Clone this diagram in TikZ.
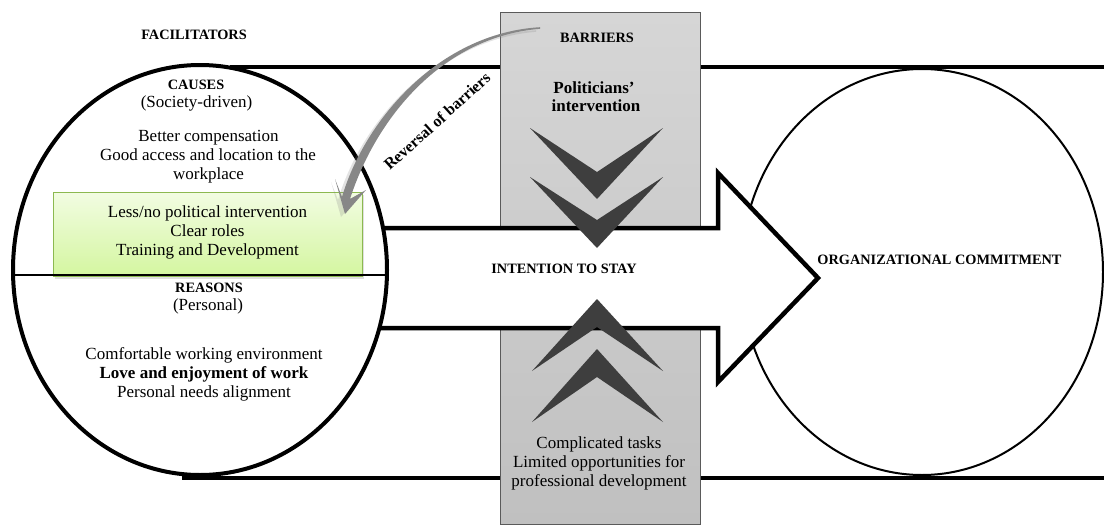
\documentclass[tikz,border=0pt]{standalone}
\usepackage{fontspec}
\setmainfont{Liberation Serif}
\usetikzlibrary{shadows}
\definecolor{boxtop}{RGB}{214,214,214}
\definecolor{boxbot}{RGB}{192,192,192}
\definecolor{boxedge}{RGB}{90,90,90}
\definecolor{chevgray}{RGB}{62,62,62}
\definecolor{greentop}{RGB}{242,252,226}
\definecolor{greenbot}{RGB}{212,246,160}
\definecolor{greenedge}{RGB}{140,185,80}
\definecolor{arrowgray}{RGB}{135,135,135}
\begin{document}
\begin{tikzpicture}[x=1pt,y=-1pt,
  thickline/.style={line width=4.5pt},
  txt/.style={font=\fontsize{17}{19}\selectfont, anchor=base, inner sep=0pt},
  btxt/.style={font=\fontsize{17}{19}\selectfont\bfseries, anchor=base, inner sep=0pt},
  hdr/.style={font=\fontsize{14.3}{17}\selectfont\bfseries, anchor=base, inner sep=0pt},
  chev/.style={fill=chevgray, draw=none},
  greenbox/.style={draw=greenedge, line width=1pt, top color=greentop, bottom color=greenbot,
     drop shadow={opacity=0.25, shadow xshift=2pt, shadow yshift=-3pt}},
  curvedarrow/.style={fill=arrowgray},
]
\useasboundingbox (0,0) rectangle (1104,525);
% frame lines
\coordinate (tl) at (230,67); \coordinate (tr) at (1104,67);
\coordinate (bl) at (182,478); \coordinate (br) at (1104,478);
\draw[thickline] (tl) -- (tr);
\draw[thickline] (bl) -- (br);
% right circle
\draw[line width=2pt, fill=white] (922,272) ellipse [x radius=181pt, y radius=203pt];
% grey barrier box
\draw[draw=boxedge, line width=0.8pt, top color=boxtop, bottom color=boxbot] (500,12) rectangle (700,524);
% big arrow
\draw[thickline, fill=white, line join=miter] (300,228) -- (718,228) -- (718,173) -- (818,278) -- (718,382) -- (718,328) -- (300,328);
% chevrons
\fill[chev] (530,128) -- (597,199) -- (663,128) -- (597,172) -- cycle;
\fill[chev] (530,177) -- (597,248) -- (663,177) -- (597,220) -- cycle;
\fill[chev] (532,371) -- (597,299) -- (663,371) -- (597,327) -- cycle;
\fill[chev] (532,422) -- (597,349) -- (663,422) -- (597,377) -- cycle;
% left circle
\draw[line width=4pt, fill=white] (200,270) ellipse [x radius=187pt, y radius=205pt];
% green box
\path[greenbox] (53,192) rectangle (362,276);
% divider
\draw[line width=1.5pt] (13,275) -- (387,275);
% curved arrow (shadow + body + head)
\begin{scope}[shift={(-4,3)}, opacity=0.22]
\fill[gray] (540,27.2) .. controls (440,33) and (365,119) .. (342,197)
   -- (335,179) -- (345,214) -- (366,190) -- (350,199)
   .. controls (375,121) and (440,37) .. (540,28.8) -- cycle;
\end{scope}
\fill[curvedarrow] (540,27.2) .. controls (440,33) and (365,119) .. (342,197)
   -- (335,179) -- (345,214) -- (366,190) -- (350,199)
   .. controls (375,121) and (440,37) .. (540,28.8) -- cycle;
\node[font=\fontsize{16}{18}\selectfont\bfseries, rotate=42, inner sep=0pt] (rev) at (437,121) {Reversal of barriers};
% texts
\node[hdr] (fac) at (194,39) {FACILITATORS};
\node[hdr] (causes) at (196,89) {CAUSES};
\node[txt] (soc) at (196.5,107) {(Society-driven)};
\node[txt] (c1) at (208.5,141) {Better compensation};
\node[txt] (c2) at (208,160) {Good access and location to the};
\node[txt] (c3) at (208.5,179) {workplace};
\node[txt] (g1) at (207.5,217) {Less/no political intervention};
\node[txt] (g2) at (207.5,236) {Clear roles};
\node[txt] (g3) at (207.5,255) {Training and Development};
\node[hdr] (reasons) at (209,292) {REASONS};
\node[txt] (pers) at (208,310) {(Personal)};
\node[txt] (r1) at (204,359) {Comfortable working environment};
\node[btxt] (r2) at (204,378) {Love and enjoyment of work};
\node[txt] (r3) at (204,397) {Personal needs alignment};
\node[hdr] (barr) at (597,42) {BARRIERS};
\node[btxt] (pol1) at (594,93) {Politicians’};
\node[btxt] (pol2) at (596,111) {intervention};
\node[hdr] (its) at (564,273) {INTENTION TO STAY};
\node[txt] (b1) at (599,448) {Complicated tasks};
\node[txt] (b2) at (599,467) {Limited opportunities for};
\node[txt] (b3) at (599,486) {professional development};
\node[hdr] (oc) at (939.5,264) {ORGANIZATIONAL COMMITMENT};
\end{tikzpicture}
\end{document}
